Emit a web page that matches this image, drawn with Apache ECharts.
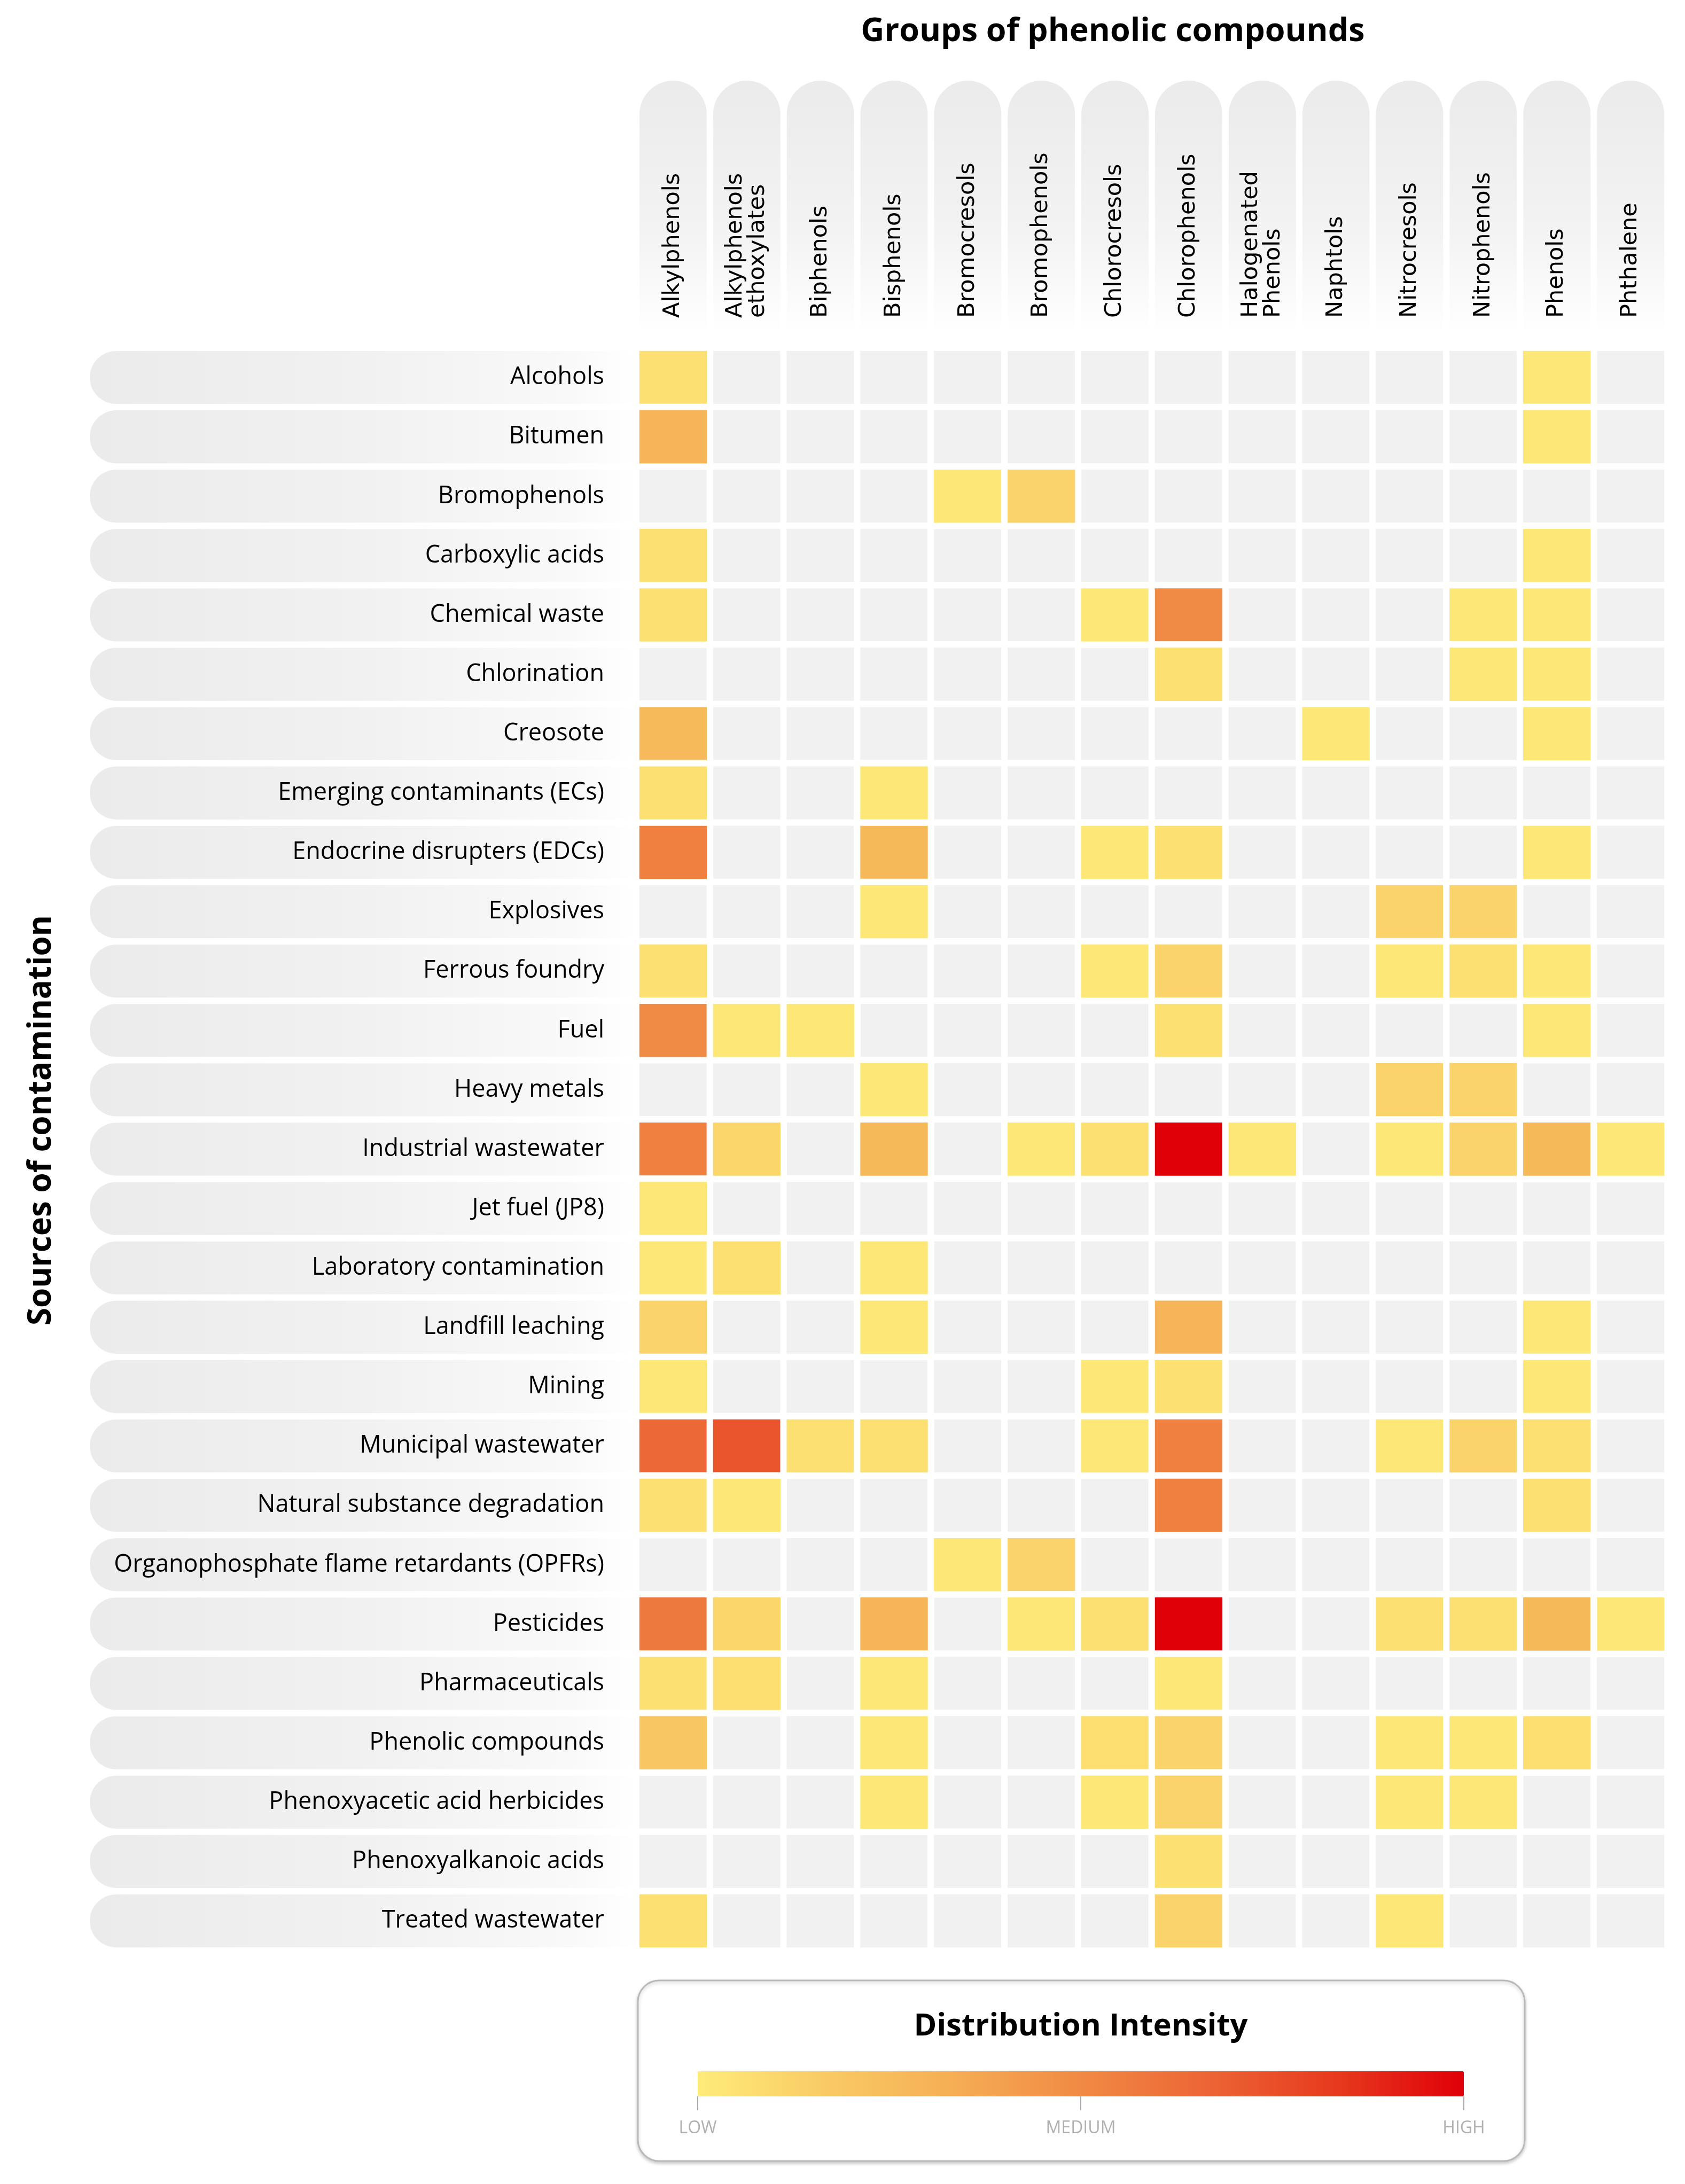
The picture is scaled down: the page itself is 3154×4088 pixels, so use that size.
<!DOCTYPE html>
<html lang="en">
<head>
<meta charset="UTF-8">
<title>Phenolic compounds heatmap</title>
<script src="https://cdn.jsdelivr.net/npm/echarts@6/dist/echarts.min.js"></script>
<style>
  html, body { margin: 0; padding: 0; background: #fff; }
  #chart { width: 3154px; height: 4088px; }
</style>
</head>
<body>
<div id="chart"></div>
<script>
// compound groups (columns)
var groups = ['Alkylphenols', 'Alkylphenols\nethoxylates', 'Biphenols', 'Bisphenols', 'Bromocresols',
  'Bromophenols', 'Chlorocresols', 'Chlorophenols', 'Halogenated\nPhenols', 'Naphtols',
  'Nitrocresols', 'Nitrophenols', 'Phenols', 'Phthalene'];

// contamination sources (rows)
var sources = ['Alcohols', 'Bitumen', 'Bromophenols', 'Carboxylic acids', 'Chemical waste', 'Chlorination',
  'Creosote', 'Emerging contaminants (ECs)', 'Endocrine disrupters (EDCs)', 'Explosives', 'Ferrous foundry',
  'Fuel', 'Heavy metals', 'Industrial wastewater', 'Jet fuel (JP8)', 'Laboratory contamination',
  'Landfill leaching', 'Mining', 'Municipal wastewater', 'Natural substance degradation',
  'Organophosphate flame retardants (OPFRs)', 'Pesticides', 'Pharmaceuticals', 'Phenolic compounds',
  'Phenoxyacetic acid herbicides', 'Phenoxyalkanoic acids', 'Treated wastewater'];

// distribution intensity, 0 = not reported, 1..100 = low..high (one row per source)
var intensity = [
  [7, 0, 0, 0, 0, 0, 0, 0, 0, 0, 0, 0, 3, 0],
  [30, 0, 0, 0, 0, 0, 0, 0, 0, 0, 0, 0, 3, 0],
  [0, 0, 0, 0, 3, 13, 0, 0, 0, 0, 0, 0, 0, 0],
  [7, 0, 0, 0, 0, 0, 0, 0, 0, 0, 0, 0, 3, 0],
  [7, 0, 0, 0, 0, 0, 3, 50, 0, 0, 0, 3, 3, 0],
  [0, 0, 0, 0, 0, 0, 0, 7, 0, 0, 0, 3, 3, 0],
  [27, 0, 0, 0, 0, 0, 0, 0, 0, 3, 0, 0, 3, 0],
  [7, 0, 0, 3, 0, 0, 0, 0, 0, 0, 0, 0, 0, 0],
  [55, 0, 0, 28, 0, 0, 3, 7, 0, 0, 0, 0, 3, 0],
  [0, 0, 0, 3, 0, 0, 0, 0, 0, 0, 13, 13, 0, 0],
  [7, 0, 0, 0, 0, 0, 3, 13, 0, 0, 3, 7, 3, 0],
  [50, 3, 3, 0, 0, 0, 0, 7, 0, 0, 0, 0, 3, 0],
  [0, 0, 0, 3, 0, 0, 0, 0, 0, 0, 13, 13, 0, 0],
  [55, 12, 0, 28, 0, 3, 7, 100, 3, 0, 3, 13, 28, 3],
  [3, 0, 0, 0, 0, 0, 0, 0, 0, 0, 0, 0, 0, 0],
  [3, 7, 0, 3, 0, 0, 0, 0, 0, 0, 0, 0, 0, 0],
  [13, 0, 0, 3, 0, 0, 0, 30, 0, 0, 0, 0, 3, 0],
  [3, 0, 0, 0, 0, 0, 3, 7, 0, 0, 0, 0, 3, 0],
  [65, 73, 7, 7, 0, 0, 3, 55, 0, 0, 3, 13, 7, 0],
  [7, 3, 0, 0, 0, 0, 0, 55, 0, 0, 0, 0, 7, 0],
  [0, 0, 0, 0, 3, 13, 0, 0, 0, 0, 0, 0, 0, 0],
  [58, 12, 0, 30, 0, 3, 7, 100, 0, 0, 7, 7, 28, 3],
  [7, 8, 0, 3, 0, 0, 0, 3, 0, 0, 0, 0, 0, 0],
  [20, 0, 0, 3, 0, 0, 8, 13, 0, 0, 3, 3, 8, 0],
  [0, 0, 0, 3, 0, 0, 3, 13, 0, 0, 3, 3, 0, 0],
  [0, 0, 0, 0, 0, 0, 0, 7, 0, 0, 0, 0, 0, 0],
  [7, 0, 0, 0, 0, 0, 0, 13, 0, 0, 3, 0, 0, 0]
];

var scaleLabels = ['LOW', 'MEDIUM', 'HIGH'];
var ramp = ['#feec7a', '#f9cb64', '#f5ae55', '#f08a44', '#ec6535', '#e63a1e', '#e00008'];

// layout (px)
var gridLeft = 1191, gridTop = 651, gridRight = 33, gridBottom = 437;
var gap = 12;
var barLeft = 1306, barTop = 3877, barLen = 1434, barThick = 47;

var emptyCells = [], filledCells = [];
intensity.forEach(function (row, r) {
  row.forEach(function (v, c) {
    emptyCells.push([c, r, 0]);
    if (v > 0) filledCells.push([c, r, v]);
  });
});

var chart = echarts.init(document.getElementById('chart'));

var graphics = [
  { type: 'text', x: 2083, y: 60, z: 10,
    style: { text: 'Groups of phenolic compounds', fontFamily: 'Open Sans', fontWeight: 'bold', fontSize: 61,
      fill: '#000', textAlign: 'center', textVerticalAlign: 'middle' } },
  { type: 'text', x: 78, y: 2097, rotation: Math.PI / 2, z: 10,
    style: { text: 'Sources of contamination', fontFamily: 'Open Sans', fontWeight: 'bold', fontSize: 60,
      fill: '#000', textAlign: 'center', textVerticalAlign: 'middle' } },
  { type: 'rect', z: 0,
    shape: { x: 1194, y: 3707, width: 1660, height: 338, r: 40 },
    style: { fill: '#fff', stroke: '#b9b9b9', lineWidth: 3,
      shadowBlur: 6, shadowOffsetY: 3, shadowColor: 'rgba(0,0,0,0.2)' } },
  { type: 'text', x: 2023, y: 3793, z: 10,
    style: { text: 'Distribution Intensity', fontFamily: 'Open Sans', fontWeight: 'bold', fontSize: 58,
      fill: '#000', textAlign: 'center', textVerticalAlign: 'middle' } }
];
scaleLabels.forEach(function (t, i) {
  var x = barLeft + barLen * i / (scaleLabels.length - 1);
  graphics.push({ type: 'line', z: 10,
    shape: { x1: x, y1: barTop + barThick, x2: x, y2: barTop + barThick + 26 },
    style: { stroke: '#aaa', lineWidth: 2 } });
  graphics.push({ type: 'text', x: x, y: 3984, z: 10,
    style: { text: t, fontFamily: 'Open Sans', fontSize: 32, fill: '#b0b0b0',
      textAlign: 'center', textVerticalAlign: 'middle' } });
});

var option = {
  backgroundColor: '#fff',
  animation: false,
  grid: { left: gridLeft, top: gridTop, right: gridRight, bottom: gridBottom, containLabel: false, outerBoundsMode: 'none' },
  xAxis: {
    type: 'category', data: groups, position: 'top', z: 10,
    axisLine: { show: false }, axisTick: { show: false }, splitLine: { show: false },
    axisLabel: { rotate: -90, margin: 56, interval: 0, fontFamily: 'DejaVu Sans', fontSize: 43,
      lineHeight: 42, color: '#000' }
  },
  yAxis: {
    type: 'category', data: sources, inverse: true, z: 10,
    axisLine: { show: false }, axisTick: { show: false }, splitLine: { show: false },
    axisLabel: { margin: 60, interval: 0, fontFamily: 'Open Sans', fontSize: 45, color: '#000' }
  },
  visualMap: {
    type: 'continuous', seriesIndex: 1, min: 1, max: 100,
    calculable: false, hoverLink: false, orient: 'horizontal',
    left: barLeft, top: barTop, itemWidth: barThick, itemHeight: barLen, padding: 0,
    inRange: { color: ramp }
  },
  graphic: graphics,
  series: [
    {
      // grey cells for combinations with no reported occurrence
      type: 'heatmap', data: emptyCells, z: 2, silent: true,
      itemStyle: { color: '#f1f1f1', borderColor: '#fff', borderWidth: gap }
    },
    {
      type: 'heatmap', data: filledCells, z: 3,
      itemStyle: { borderColor: '#fff', borderWidth: gap },
      emphasis: { disabled: true }
    },
    {
      // rounded row-label tabs
      type: 'custom', silent: true, clip: false, z: 1,
      data: sources.map(function (s, i) { return [0, i]; }),
      renderItem: function (params, api) {
        var c = api.coord([0, api.value(1)]);
        var band = api.size([1, 1]);
        var h = band[1] - gap;
        var x0 = 168, x1 = c[0] - band[0] / 2;
        return {
          type: 'rect',
          shape: { x: x0, y: c[1] - h / 2, width: x1 - x0, height: h, r: [h / 2, 0, 0, h / 2] },
          style: { fill: new echarts.graphic.LinearGradient(0, 0, 1, 0, [
            { offset: 0, color: '#ebebeb' }, { offset: 0.5, color: '#f1f1f1' },
            { offset: 0.88, color: '#f9f9f9' }, { offset: 1, color: '#ffffff' }]) }
        };
      }
    },
    {
      // rounded column-header tabs
      type: 'custom', silent: true, clip: false, z: 1,
      data: groups.map(function (g, i) { return [i, 0]; }),
      renderItem: function (params, api) {
        var c = api.coord([api.value(0), 0]);
        var band = api.size([1, 1]);
        var w = band[0] - gap;
        var y0 = 151, y1 = gridTop - 25;
        return {
          type: 'rect',
          shape: { x: c[0] - w / 2, y: y0, width: w, height: y1 - y0, r: [w / 2, w / 2, 0, 0] },
          style: { fill: new echarts.graphic.LinearGradient(0, 0, 0, 1, [
            { offset: 0, color: '#ebebeb' }, { offset: 0.6, color: '#f3f3f3' }, { offset: 1, color: '#ffffff' }]) }
        };
      }
    }
  ]
};
chart.setOption(option);
</script>
</body>
</html>
